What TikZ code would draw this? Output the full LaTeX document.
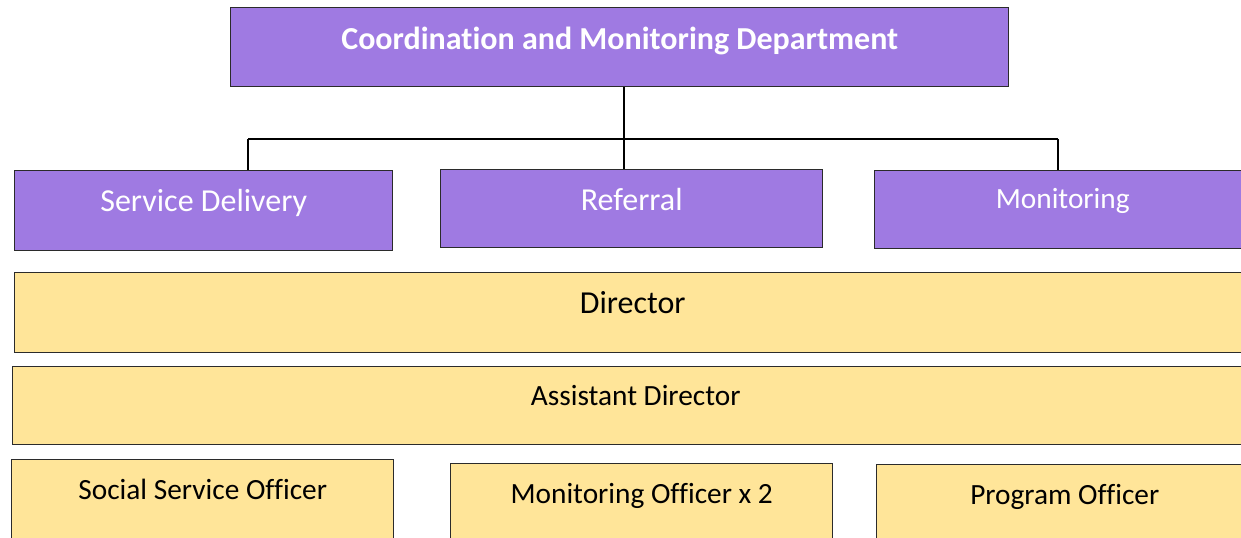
\documentclass[tikz,border=0pt]{standalone}
\usepackage{fontspec}
\setmainfont{Carlito}[Ligatures=NoCommon]
\definecolor{deptpurple}{HTML}{9F7AE2}
\definecolor{staffyellow}{HTML}{FFE599}
\definecolor{edgegray}{HTML}{2B2B2B}
\begin{document}
\begin{tikzpicture}[x=0.75pt,y=-0.75pt,
  box/.style={draw=edgegray, line width=1.1pt, inner sep=0pt, anchor=north west, align=center},
  dept/.style={box, fill=deptpurple, text=white, font=\fontsize{24}{28}\selectfont},
  staff/.style={box, fill=staffyellow, text=black, font=\fontsize{22}{26}\selectfont},
  link/.style={draw=black, line width=1.7pt}]
\clip (0,0) rectangle (1241,538);
\node [dept, font=\bfseries\fontsize{24}{28}\selectfont, minimum width=583.5pt, text height=31.5pt, text depth=27.75pt] (title) at (230,7) {Coordination and Monitoring Department};
\node [dept, minimum width=283.5pt, text height=30.75pt, text depth=29.25pt] (service) at (14,170) {Service Delivery};
\node [dept, minimum width=286.5pt, text height=30.75pt, text depth=27.75pt] (referral) at (440,169) {Referral};
\node [dept, font=\fontsize{22}{26}\selectfont, minimum width=282pt, text height=28.5pt, text depth=30pt] (monitoring) at (874,170) {Monitoring};
\node [staff, font=\fontsize{24}{28}\selectfont, minimum width=927pt, text height=30.75pt, text depth=29.25pt] (director) at (14,272) {Director};
\node [staff, minimum width=934.5pt, text height=29.25pt, text depth=29.25pt] (assistant) at (12,366) {Assistant Director};
\node [staff, minimum width=286.5pt, text height=30pt, text depth=33.75pt] (social) at (11,459) {Social Service Officer};
\node [staff, minimum width=286.5pt, text height=30pt, text depth=33.75pt] (monofficer) at (450,463) {Monitoring Officer x 2};
\node [staff, minimum width=282pt, text height=30pt, text depth=33.75pt] (program) at (876,464) {Program Officer};
\coordinate (hub) at (624,139);
\coordinate (bus west) at (248,139);
\coordinate (bus east) at (1058,139);
\draw [link] (bus west) -- (bus east);
\draw [link] (title.south -| hub) -- (hub) -- (hub |- referral.north);
\draw [link] (bus west) -- (bus west |- service.north);
\draw [link] (bus east) -- (bus east |- monitoring.north);
\end{tikzpicture}
\end{document}
